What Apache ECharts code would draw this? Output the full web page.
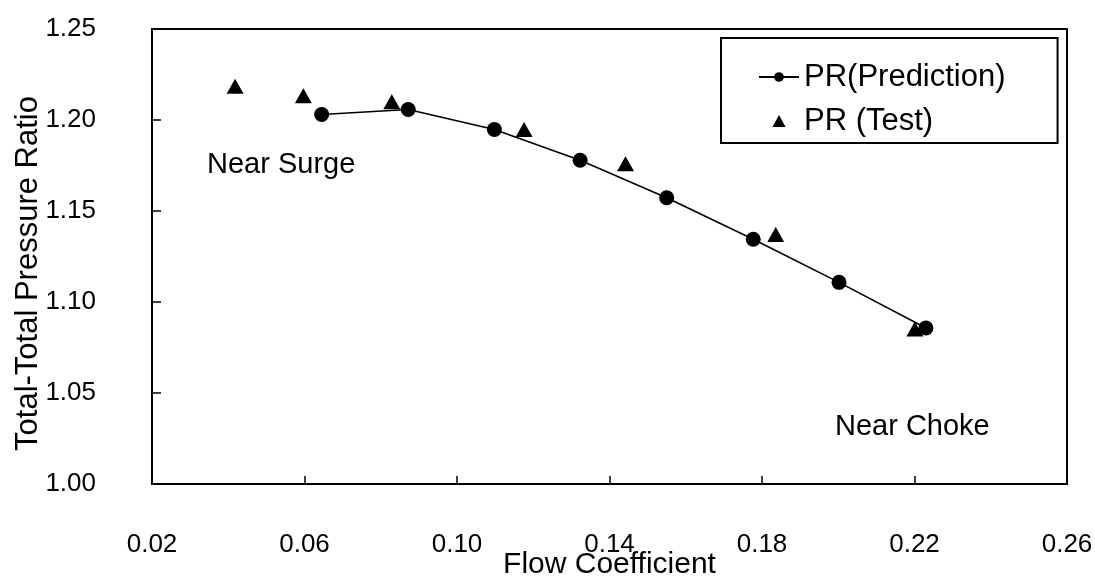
<!DOCTYPE html>
<html>
<head>
<meta charset="utf-8">
<script src="https://cdn.jsdelivr.net/npm/echarts@6/dist/echarts.min.js"></script>
<style>
html,body{margin:0;padding:0;background:#fff;}
#chart{width:1095px;height:581px;}
</style>
</head>
<body>
<div id="chart"></div>
<script>
// Data
var predFlow = [0.0645, 0.0872, 0.1098, 0.1323, 0.1550, 0.1777, 0.2002, 0.2230];
var predPR   = [1.2030, 1.2058, 1.1948, 1.1779, 1.1573, 1.1345, 1.1108, 1.0857];
var testFlow = [0.0418, 0.0597, 0.0829, 0.1176, 0.1442, 0.1836, 0.2201];
var testPR   = [1.2186, 1.2133, 1.2100, 1.1948, 1.1760, 1.1371, 1.0852];
var xTicks = ['0.02','0.06','0.10','0.14','0.18','0.22','0.26'];
var yTicks = ['1.00','1.05','1.10','1.15','1.20','1.25'];
var seriesNames = ['PR(Prediction)', 'PR (Test)'];
var xName = 'Flow Coefficient';
var yName = 'Total-Total Pressure Ratio';
var notes = ['Near Surge', 'Near Choke'];

function zip(a, b){ return a.map(function(v,i){ return [v, b[i]]; }); }

var FONT = '"Liberation Sans", Arial, sans-serif';
var chart = echarts.init(document.getElementById('chart'), null, {renderer:'canvas'});
chart.setOption({
  backgroundColor: '#ffffff',
  animation: false,
  textStyle: {fontFamily: FONT, color: '#000'},
  grid: {left: 152, right: 28, top: 29, bottom: 97, show: true, borderColor: '#000', borderWidth: 2,
         backgroundColor: 'transparent', containLabel: false, outerBoundsMode: 'none'},
  xAxis: {
    type: 'value', min: 0.02, max: 0.26, interval: 0.04,
    name: xName, nameLocation: 'middle', nameGap: 66, nameMoveOverlap: false,
    nameTextStyle: {fontFamily: FONT, fontSize: 30, color: '#000'},
    axisLine: {show: true, lineStyle: {color: '#000', width: 2}},
    axisTick: {show: true, inside: true, length: 8, lineStyle: {color: '#000', width: 1.5}},
    axisLabel: {fontFamily: FONT, fontSize: 26, color: '#000', margin: 48,
      formatter: function(v){ var s = v.toFixed(2); return xTicks.indexOf(s) >= 0 ? s : ''; }},
    splitLine: {show: false}
  },
  yAxis: {
    type: 'value', min: 1.0, max: 1.25, interval: 0.05,
    name: yName, nameLocation: 'middle', nameGap: 108, nameRotate: 90, nameMoveOverlap: false,
    nameTextStyle: {fontFamily: FONT, fontSize: 31, color: '#000', padding: [0, 34, 0, 0]},
    axisLine: {show: true, lineStyle: {color: '#000', width: 2}},
    axisTick: {show: true, inside: true, length: 9, lineStyle: {color: '#000', width: 1.5}},
    axisLabel: {fontFamily: FONT, fontSize: 26, color: '#000', margin: 56,
      formatter: function(v){ var s = v.toFixed(2); return yTicks.indexOf(s) >= 0 ? s : ''; }},
    splitLine: {show: false}
  },
  legend: {
    orient: 'vertical', left: 721, top: 38,
    padding: [22, 52, 5, 37],
    itemGap: 10, itemWidth: 40, itemHeight: 12,
    borderColor: '#000', borderWidth: 2, backgroundColor: '#fff',
    textStyle: {fontFamily: FONT, fontSize: 31, color: '#000', lineHeight: 34},
    data: [
      {name: seriesNames[0]},
      {name: seriesNames[1], icon: 'path://M0,10 L5.5,0 L11,10 Z'}
    ]
  },
  series: [
    {
      name: seriesNames[0], type: 'line', data: zip(predFlow, predPR),
      symbol: 'circle', symbolSize: 15, smooth: false,
      itemStyle: {color: '#000', opacity: 1},
      lineStyle: {color: '#000', width: 1.6},
      z: 3
    },
    {
      name: seriesNames[1], type: 'scatter', data: zip(testFlow, testPR),
      symbol: 'triangle', symbolSize: [17, 15],
      itemStyle: {color: '#000', opacity: 1},
      z: 4
    }
  ],
  graphic: [
    {type: 'text', left: 207, top: 150, style: {text: notes[0], font: '29px ' + FONT, fill: '#000'}},
    {type: 'text', left: 835, top: 412, style: {text: notes[1], font: '29px ' + FONT, fill: '#000'}}
  ]
});
</script>
</body>
</html>
